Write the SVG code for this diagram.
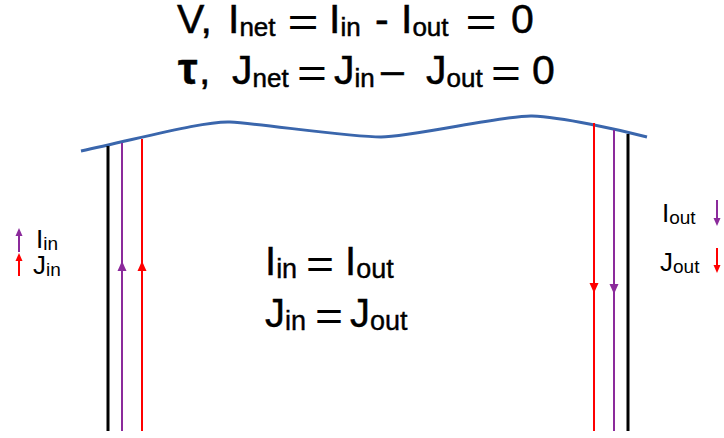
<svg xmlns="http://www.w3.org/2000/svg" width="724" height="438" viewBox="0 0 724 438">
<style>
text{font-family:"Liberation Sans",Arial,sans-serif;fill:#000}
.t{font-size:41px;stroke:#000;stroke-width:0.5}
.ts{font-size:26px}
.c{font-size:40px;stroke:#000;stroke-width:0.4}
.cs{font-size:27px}
.eq{text-anchor:middle;stroke:none}
.l{font-size:26px}
.ls{font-size:19px}
.blk{stroke:#000;stroke-width:3;fill:none}
.pur{stroke:#8B2A9B;stroke-width:2;fill:none}
.red{stroke:#FF0000;stroke-width:2;fill:none}
</style>
<defs>
<path id="up" d="M0,-5 L4.5,5 L-4.5,5 Z"/>
<path id="down" d="M0,5 L4.5,-5 L-4.5,-5 Z"/>
<path id="sup" d="M0,-4 L3.5,4 L-3.5,4 Z"/>
<path id="sdown" d="M0,4 L3.5,-4 L-3.5,-4 Z"/>
</defs>
<g id="title">
<text class="t" y="33"><tspan x="177">V,</tspan><tspan x="228">I</tspan><tspan class="ts" dy="3">net</tspan><tspan x="329" dy="-3">I</tspan><tspan class="ts" dy="3">in</tspan><tspan x="375" dy="-3">-</tspan><tspan x="401">I</tspan><tspan class="ts" dy="3">out</tspan><tspan x="511" dy="-3">0</tspan></text>
<text class="t eq" transform="translate(303,36) scale(1.3,1)">=</text>
<text class="t eq" transform="translate(481,36) scale(1.3,1)">=</text>
<text class="t" y="84"><tspan x="178" font-weight="bold" font-size="44">τ</tspan><tspan x="199">,</tspan><tspan x="232">J</tspan><tspan class="ts" dy="3">net</tspan><tspan x="334" dy="-3">J</tspan><tspan class="ts" dy="3">in</tspan><tspan x="381" dy="-3">–</tspan><tspan x="426">J</tspan><tspan class="ts" dy="3">out</tspan><tspan x="532" dy="-3">0</tspan></text>
<text class="t eq" transform="translate(312,87) scale(1.25,1)">=</text>
<text class="t eq" transform="translate(506,87) scale(1.25,1)">=</text>
</g>
<g id="surface">
<path d="M81,151 C150,136 205,121 230,122 C262,124 350,137 381,137 C412,137 505,115 532,116 C562,117 620,130 647,137" stroke="#3A66AC" stroke-width="3" fill="none"/>
</g>
<g id="connectors">
<line class="blk" x1="108" y1="146" x2="108" y2="431"/>
<line class="pur" x1="122" y1="143" x2="122" y2="431"/>
<line class="red" x1="142" y1="139" x2="142" y2="431"/>
<line class="red" x1="594" y1="123" x2="594" y2="431"/>
<line class="pur" x1="614" y1="130" x2="614" y2="431"/>
<line class="blk" x1="628" y1="134" x2="628" y2="431"/>
<use href="#up" x="122" y="266" fill="#8B2A9B"/>
<use href="#up" x="142" y="266" fill="#FF0000"/>
<use href="#down" x="594" y="288" fill="#FF0000"/>
<use href="#down" x="614" y="289" fill="#8B2A9B"/>
</g>
<g id="center">
<text class="c" y="275"><tspan x="265">I</tspan><tspan class="cs" dy="3">in</tspan><tspan x="345" dy="-3">I</tspan><tspan class="cs" dy="3">out</tspan></text>
<text class="c eq" transform="translate(320,278) scale(1.2,1)">=</text>
<text class="c" y="327"><tspan x="265">J</tspan><tspan class="cs" dy="3">in</tspan><tspan x="350" dy="-3">J</tspan><tspan class="cs" dy="3">out</tspan></text>
<text class="c eq" transform="translate(329,330) scale(1.2,1)">=</text>
</g>
<g id="left-legend">
<line class="pur" x1="19" y1="252" x2="19" y2="233"/>
<use href="#sup" x="19" y="232" fill="#8B2A9B"/>
<text class="l" x="36" y="248">I<tspan class="ls" dy="2">in</tspan></text>
<line class="red" x1="19" y1="276" x2="19" y2="258"/>
<use href="#sup" x="19" y="257" fill="#FF0000"/>
<text class="l" x="33" y="274">J<tspan class="ls" dy="2">in</tspan></text>
</g>
<g id="right-legend">
<text class="l" x="662" y="222">I<tspan class="ls" dy="2">out</tspan></text>
<line class="pur" x1="717" y1="200" x2="717" y2="221"/>
<use href="#sdown" x="717" y="222" fill="#8B2A9B"/>
<text class="l" x="660" y="271">J<tspan class="ls" dy="2">out</tspan></text>
<line class="red" x1="717" y1="248" x2="717" y2="268"/>
<use href="#sdown" x="717" y="269" fill="#FF0000"/>
</g>
</svg>
